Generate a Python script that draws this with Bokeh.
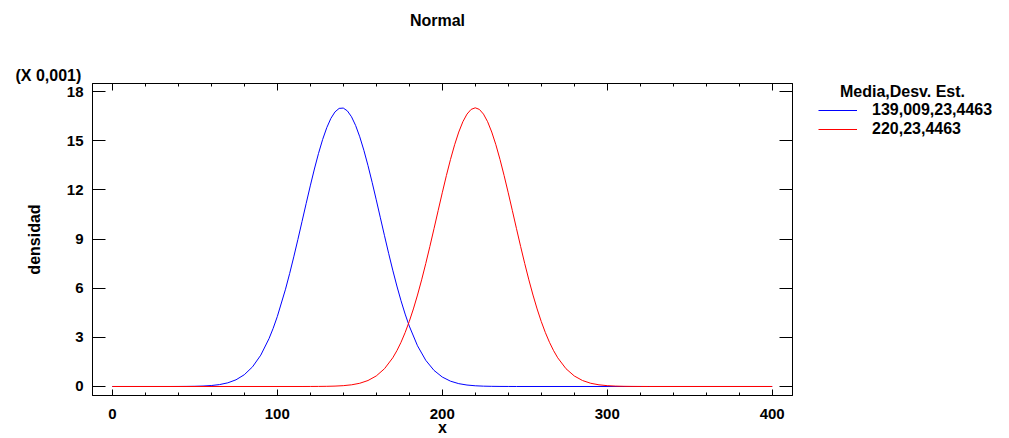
from bokeh.plotting import figure
from bokeh.models import (Range1d, FixedTicker, LinearAxis, Legend, LegendItem, Title, Label)
from bokeh.layouts import row, column
from bokeh.embed import file_html
from bokeh.resources import INLINE

# ---- data (density in units of 0.001) ----
blue_x = [0, 35, 40, 45, 50, 55, 60, 65, 70, 75, 80, 85, 90, 95, 97.5, 100, 105,
          107.5, 110, 112.5, 115, 117.5, 120, 122.5, 125, 127.5, 130, 132.5, 135,
          137.5, 140, 142.5, 145, 147.5, 150, 152.5, 155, 157.5, 160, 162.5, 165,
          167.5, 170, 172.5, 175, 177.5, 180, 185, 190, 195, 200, 205, 210, 215,
          220, 225, 230, 235, 240, 245, 400]
blue_y = [0.0, 0.0, 0.0023, 0.0055, 0.0126, 0.0277, 0.0582, 0.1168, 0.2237, 0.4097,
          0.717, 1.199, 1.914, 2.923, 3.550, 4.264, 5.943,
          6.898, 7.915, 8.979, 10.073, 11.171, 12.249, 13.279, 14.233, 15.084,
          15.804, 16.372, 16.768,
          16.980, 17.000, 16.827, 16.468, 15.935, 15.245, 14.419, 13.485, 12.467,
          11.397, 10.300, 9.204,
          8.132, 7.103, 6.134, 5.238, 4.422, 3.691, 2.485, 1.599, 0.983, 0.578,
          0.324, 0.174, 0.0891,
          0.0436, 0.0204, 0.0091, 0.0039, 0.0016, 0.0, 0.0]

red_x = [0, 115, 120, 125, 130, 135, 140, 145, 150, 155, 160, 165, 170, 172.5, 175,
         177.5, 180, 182.5, 185, 187.5, 190, 192.5, 195, 197.5, 200, 202.5, 205,
         207.5, 210, 212.5, 215, 217.5, 220, 222.5, 225, 227.5, 230, 232.5, 235,
         237.5, 240, 242.5, 245, 247.5, 250, 252.5, 255, 257.5, 260, 262.5, 265,
         267.5, 270, 275, 280, 285, 290, 295, 300, 305, 310, 315, 320, 325, 400]
red_y = [0.0, 0.0, 0.0019, 0.0046, 0.0108, 0.0238, 0.0505, 0.102, 0.197, 0.365,
         0.644, 1.086, 1.751, 2.186, 2.697,
         3.291, 3.970, 4.735, 5.584, 6.510, 7.505, 8.553, 9.637, 10.737, 11.826,
         12.878, 13.866,
         14.761, 15.536, 16.166, 16.632, 16.919, 17.015, 16.919, 16.632, 16.166,
         15.536, 14.761, 13.866,
         12.878, 11.826, 10.737, 9.637, 8.553, 7.505, 6.510, 5.584, 4.735, 3.970,
         3.291, 2.697,
         2.186, 1.751, 1.086, 0.644, 0.365, 0.197, 0.102, 0.0505, 0.0238, 0.0108,
         0.0046, 0.0019, 0.0, 0.0]

series_names = ["139,009,23,4463", "220,23,4463"]
series_colors = ["#0000FF", "#FF0000"]
legend_title = "Media,Desv. Est."
chart_title = "Normal"
scale_note = "(X 0,001)"
x_label = "x"
y_label = "densidad"

x_major = [0, 100, 200, 300, 400]
x_minor = [20, 40, 60, 80, 120, 140, 160, 180, 220, 240, 260, 280, 320, 340, 360, 380]
y_major = [0, 3, 6, 9, 12, 15, 18]

FONT = "Liberation Sans"
TOP_H = 40          # height of the title strip
H = 438 - TOP_H     # height of the plot row

# ---- title strip (frame matches the plot frame horizontally, 1 unit == 1 px) ----
tf = figure(width=1005, height=TOP_H, output_backend="svg", toolbar_location=None,
            title=None, x_range=Range1d(0, 700), y_range=Range1d(0, TOP_H),
            x_axis_location=None, y_axis_location=None,
            min_border_left=92, min_border_right=213, min_border_top=0,
            min_border_bottom=0)
tf.grid.visible = False
tf.outline_line_color = None
tf.background_fill_color = "white"
tf.border_fill_color = "white"
tf.add_layout(Label(x=345, y=TOP_H - 20, text=chart_title, text_align="center",
                    text_baseline="middle", text_font=FONT,
                    text_font_style="bold", text_font_size="16px",
                    text_color="black"))

# ---- main plot ----
p = figure(width=808, height=H, output_backend="svg",
           toolbar_location=None, title=None,
           x_range=Range1d(-12, 412.3), y_range=Range1d(-0.55, 18.5),
           x_axis_location=None, y_axis_location=None,
           min_border_left=92, min_border_top=83 - TOP_H, min_border_bottom=41,
           min_border_right=16)
p.grid.visible = False
p.outline_line_color = "black"
p.outline_line_width = 1
p.background_fill_color = "white"
p.border_fill_color = "white"

def style_axis(ax, tick_in, minor_in, labels=True):
    ax.axis_line_color = "black"
    ax.major_tick_line_color = "black"
    ax.minor_tick_line_color = "black"
    ax.major_tick_in = tick_in
    ax.major_tick_out = 0
    ax.minor_tick_in = minor_in
    ax.minor_tick_out = 0
    ax.major_label_text_font = FONT
    ax.major_label_text_font_style = "bold"
    ax.major_label_text_font_size = "15px"
    ax.major_label_text_color = "black" if labels else None
    ax.major_label_standoff = 9 if labels else 0

xb = LinearAxis(ticker=FixedTicker(ticks=x_major, minor_ticks=x_minor))
style_axis(xb, 6, 3)
xb.major_label_standoff = 13
xb.axis_label = x_label
xb.axis_label_text_font = FONT
xb.axis_label_text_font_style = "bold"
xb.axis_label_text_font_size = "16px"
xb.axis_label_text_color = "black"
xb.axis_label_standoff = -3
p.add_layout(xb, "below")

xt = LinearAxis(ticker=FixedTicker(ticks=x_major, minor_ticks=x_minor))
style_axis(xt, 7, 3, labels=False)
xt.major_label_overrides = {v: "" for v in x_major}
p.add_layout(xt, "above")

p.add_layout(Title(text=scale_note, align="left", offset=-77, standoff=0,
                   text_font=FONT, text_font_style="bold",
                   text_font_size="16px", text_color="black"), "above")

yl = LinearAxis(ticker=FixedTicker(ticks=y_major))
style_axis(yl, 13, 0)
yl.minor_tick_line_color = None
yl.axis_label = y_label
yl.axis_label_text_font = FONT
yl.axis_label_text_font_style = "bold"
yl.axis_label_text_font_size = "16px"
yl.axis_label_text_color = "black"
yl.axis_label_standoff = 21
p.add_layout(yl, "left")

yr = LinearAxis(ticker=FixedTicker(ticks=y_major))
style_axis(yr, 13, 0, labels=False)
yr.minor_tick_line_color = None
yr.major_label_overrides = {v: "" for v in y_major}
yr.major_label_standoff = 0
p.add_layout(yr, "right")

r_blue = p.line(blue_x, blue_y, line_color=series_colors[0], line_width=1)
r_red = p.line(red_x, red_y, line_color=series_colors[1], line_width=1)

# ---- legend panel (separate canvas to the right of the plot) ----
LW, LH = 187, 314   # legend frame size in pixels (data units == pixels here)
lg = figure(width=197, height=H, output_backend="svg", toolbar_location=None,
            title=None, x_range=Range1d(0, LW), y_range=Range1d(0, LH),
            x_axis_location=None, y_axis_location=None,
            min_border_left=10, min_border_right=0, min_border_top=83 - TOP_H,
            min_border_bottom=41)
lg.grid.visible = False
lg.outline_line_color = None
lg.background_fill_color = "white"
lg.border_fill_color = "white"
l_blue = lg.line([blue_x[0]], [blue_y[0]], line_color=series_colors[0], line_width=1)
l_red = lg.line([red_x[0]], [red_y[0]], line_color=series_colors[1], line_width=1)

lg.add_layout(Label(x=84, y=LH - 7.7, text=legend_title, text_align="center",
                    text_baseline="middle", text_font=FONT,
                    text_font_style="bold", text_font_size="16px",
                    text_color="black"))

legend = Legend(items=[LegendItem(label=series_names[0], renderers=[l_blue]),
                       LegendItem(label=series_names[1], renderers=[l_red])],
                location=(0, 257), orientation="vertical",
                margin=0, padding=0, spacing=1,
                glyph_width=39, glyph_height=18, label_height=18,
                label_standoff=15,
                label_text_font=FONT, label_text_font_style="bold",
                label_text_font_size="16px", label_text_color="black",
                border_line_color=None, background_fill_alpha=0)
lg.add_layout(legend)

layout = column(tf, row(p, lg))
open("out.html", "w").write(file_html(layout, INLINE))
